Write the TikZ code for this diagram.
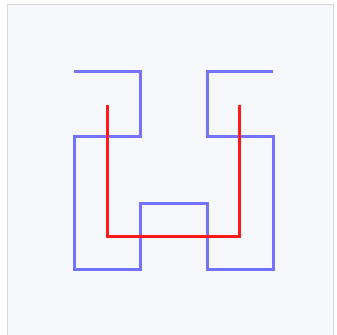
\documentclass[tikz,border=0pt]{standalone}
\usepackage{tikz}
\definecolor{framebg}{RGB}{247,248,251}
\tikzset{blueline/.style={draw=blue!55,line width=3bp,line join=miter},
         redline/.style={draw=red!90,line width=3bp,line join=miter}}

\begin{document}
\begin{tikzpicture}[x=1bp,y=-1bp]
% --- frame
\useasboundingbox (0,0) rectangle (337,335);
\draw[draw=gray!30,fill=framebg,line width=1.5bp] (7.5,4.5) rectangle (333.5,340);
% --- second order curve
\draw[blueline] (74,71) -- (140,71) -- (140,136) -- (74,136) -- (74,269) -- (140,269)
  -- (140,203) -- (207,203) -- (207,269) -- (273,269) -- (273,136) -- (207,136)
  -- (207,71) -- (273,71);
% --- first order curve
\draw[redline] (107,105) -- (107,236) -- (239,236) -- (239,105);
\end{tikzpicture}
\end{document}
